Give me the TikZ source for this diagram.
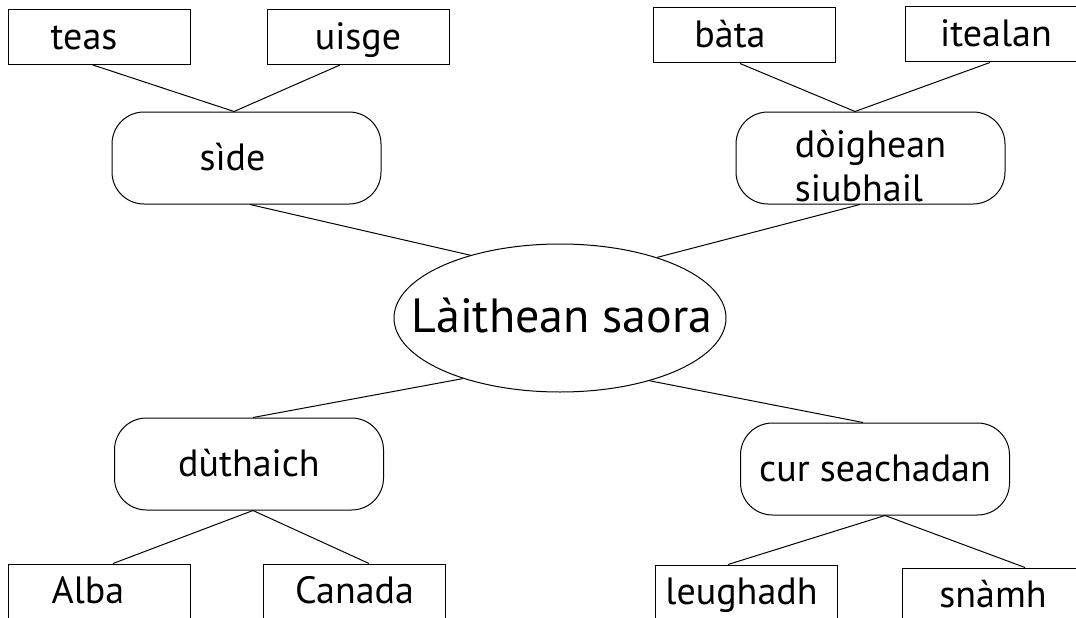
\documentclass[tikz,border=0pt]{standalone}
\usepackage{fontspec}
\setmainfont{PT Sans}
\usetikzlibrary{shapes.geometric}
\begin{document}
\begin{tikzpicture}[x=1pt,y=-1pt,
  leaf/.style={draw, line width=1pt, minimum width=182pt, minimum height=55pt,
    inner sep=0pt, font=\fontsize{38}{44}\selectfont, text height=27pt, text depth=3pt},
  cat/.style={draw, line width=1pt, rounded corners=32pt, minimum width=269pt,
    minimum height=92pt, inner sep=0pt, font=\fontsize{38}{44}\selectfont},
  catone/.style={cat, text height=27pt, text depth=3pt},
  hub/.style={draw, line width=1pt, ellipse, minimum width=332pt, minimum height=148pt,
    inner sep=0pt, font=\fontsize{48}{54}\selectfont, text height=34pt, text depth=6pt},
  link/.style={line width=1pt}]
\useasboundingbox (0,0) rectangle (1076,618);
\clip (0,0) rectangle (1076,618);
\fill[white] (0,0) rectangle (1076,618);

% centre
\node[hub] (hub) at (560,318) {\makebox[0pt]{\hspace*{4pt}Làithean saora}};

% top-left
\node[catone] (side) at (246.5,158) {\hspace*{-28pt}sìde};
\node[leaf] (teas) at (99,37) {\hspace*{-30pt}teas};
\node[leaf] (uisge) at (358,37) {uisge};

% top-right
\node[cat, align=left] (doig) at (870.5,158) {\rule{0pt}{44pt}dòighean\\siubhail};
\node[leaf] (bata) at (744,35.5) {\hspace*{-28pt}bàta};
\node[leaf] (itealan) at (996,34.5) {itealan};

% bottom-left
\node[catone] (duth) at (249,464) {dùthaich};
\node[leaf] (alba) at (99,591.5) {\hspace*{-22pt}Alba};
\node[leaf] (canada) at (354.5,591.5) {Canada};

% bottom-right
\node[catone] (cur) at (875,469) {cur seachadan};
\node[leaf] (leug) at (746.5,592.5) {\hspace*{-10pt}leughadh};
\node[leaf] (snamh) at (993,595.5) {snàmh};

% connectors
\draw[link] ([xshift=-6pt]teas.south) -- ([xshift=-12.5pt]side.north);
\draw[link] ([xshift=-18pt]uisge.south) -- ([xshift=-12.5pt]side.north);
\draw[link] ([xshift=3.5pt]side.south) -- (hub.145.4);

\draw[link] ([xshift=-4pt]bata.south) -- ([xshift=-15.5pt]doig.north);
\draw[link] ([xshift=-6pt]itealan.south) -- ([xshift=-15.5pt]doig.north);
\draw[link] ([xshift=-10.5pt]doig.south) -- (hub.32.7);

\draw[link] (hub.212.2) -- ([xshift=4pt]duth.north);
\draw[link] ([xshift=4pt]duth.south) -- ([xshift=14pt]alba.north);
\draw[link] ([xshift=4pt]duth.south) -- ([xshift=14.5pt]canada.north);

\draw[link] (hub.325) -- ([xshift=-12pt]cur.north);
\draw[link] ([xshift=10pt]cur.south) -- ([xshift=-18.5pt]leug.north);
\draw[link] ([xshift=10pt]cur.south) -- ([xshift=32pt]snamh.north);
\end{tikzpicture}
\end{document}
